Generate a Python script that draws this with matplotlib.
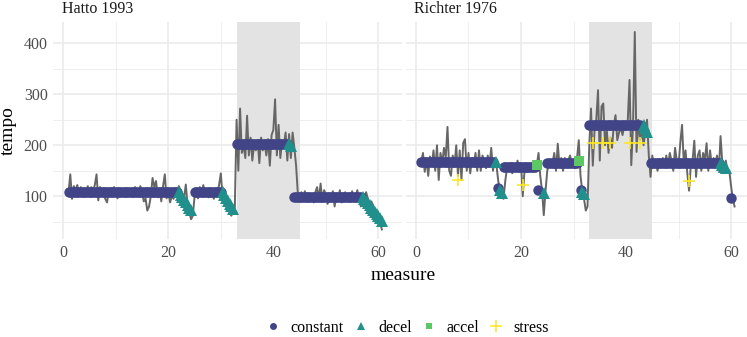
import numpy as np
import matplotlib
matplotlib.use('Agg')
import matplotlib.pyplot as plt
from matplotlib.lines import Line2D

plt.rcParams['font.family'] = ['Liberation Serif', 'DejaVu Serif']

# three beats per measure, measures 1..60
measure = np.repeat(np.arange(1, 61), 3) + np.tile([0, 1 / 3, 2 / 3], 60)

# raw tempo per beat, one row per measure
hatto_tempo = [
    108, 143, 95, 120, 112, 122, 105, 118, 110, 112, 108, 120, 100, 118, 110,
    122, 143, 92, 118, 112, 105, 95, 88, 110, 115, 100, 118, 108, 96, 112,
    110, 104, 112, 108, 115, 106, 110, 104, 118, 112, 100, 120, 108, 90, 96,
    72, 80, 100, 136, 118, 130, 98, 112, 90, 120, 143, 96, 110, 88, 100,
    95, 108, 100, 120, 112, 105, 98, 123, 82, 68, 55, 62, 100, 110, 96,
    118, 100, 122, 104, 110, 98, 112, 105, 95, 115, 108, 122, 145, 100, 95,
    88, 80, 70, 62, 68, 78, 250, 150, 272, 185, 200, 175, 258, 180, 215,
    170, 200, 190, 210, 165, 215, 190, 205, 180, 212, 160, 220, 230, 290, 180,
    240, 175, 210, 200, 225, 170, 222, 175, 225, 195, 160, 105, 100, 108, 96,
    110, 92, 104, 100, 96, 88, 108, 118, 94, 125, 90, 112, 104, 85, 100,
    96, 110, 80, 102, 95, 112, 88, 100, 108, 95, 104, 90, 110, 96, 100,
    112, 92, 80, 104, 96, 108, 95, 86, 90, 82, 75, 70, 62, 48, 35,
]
richter_tempo = [
    168, 185, 148, 172, 140, 178, 160, 190, 150, 200, 132, 185, 165, 195, 175,
    236, 150, 140, 180, 160, 200, 140, 190, 132, 205, 212, 150, 185, 145, 175,
    160, 185, 150, 190, 150, 180, 170, 155, 180, 160, 195, 150, 175, 160, 130,
    112, 100, 95, 130, 155, 150, 165, 145, 160, 150, 170, 155, 165, 100, 150,
    160, 148, 165, 155, 168, 150, 160, 185, 140, 112, 63, 110, 150, 165, 170,
    165, 185, 150, 203, 160, 175, 150, 175, 160, 170, 180, 165, 160, 155, 175,
    210, 140, 110, 95, 72, 80, 200, 272, 160, 230, 250, 308, 170, 276, 282,
    200, 230, 185, 215, 195, 240, 259, 210, 225, 235, 220, 240, 230, 250, 328,
    161, 240, 422, 187, 250, 210, 235, 200, 225, 250, 180, 138, 180, 160, 165,
    150, 170, 165, 175, 160, 180, 160, 185, 170, 150, 195, 170, 160, 205, 240,
    165, 190, 145, 111, 160, 170, 209, 138, 180, 190, 150, 185, 170, 204, 150,
    190, 160, 175, 165, 180, 150, 218, 165, 155, 170, 148, 150, 120, 95, 80,
]

# constant segments: start measure, end measure, fitted tempo
hatto_const_start = [1, 25, 33, 44]
hatto_const_end = [21.67, 30, 42.67, 56.67]
hatto_const_level = [108, 108, 203, 98]
hatto_decel_x = [22, 22.33, 22.67, 23, 23.33, 23.67, 24, 24.33,
                 30.33, 30.67, 31, 31.33, 31.67, 32, 32.33, 43, 43.33,
                 57, 57.33, 57.67, 58, 58.33, 58.67, 59, 59.33, 59.67, 60, 60.33, 60.67]
hatto_decel_y = [108, 103, 98, 93, 88, 83, 78, 73,
                 108, 102, 96, 90, 85, 80, 75, 203, 198,
                 98, 94, 90, 86, 82, 78, 74, 70, 66, 62, 58, 52]

richter_const_start = [1, 16.67, 25, 33, 44.67]
richter_const_end = [14.67, 22.67, 30.67, 42.67, 57.67]
richter_const_level = [167, 157, 166, 240, 166]
richter_const_x = [15.67, 23.33, 31.33, 60]
richter_const_y = [116, 112, 113, 97]
richter_decel_x = [15.33, 16, 16.33, 24.33, 31.67, 32, 43.33, 43.67, 44, 58, 58.33, 58.67, 59]
richter_decel_y = [168, 112, 106, 107, 109, 104, 240, 233, 226, 166, 162, 158, 155]
richter_accel_x = [23, 31]
richter_accel_y = [161, 169]
richter_stress_x = [8, 20.33, 33.67, 35.67, 37, 40.67, 42.67, 52]
richter_stress_y = [132, 122, 205, 205, 205, 205, 205, 130]

col_const = '#414487'
col_decel = '#21908C'
col_accel = '#5DC863'
col_stress = '#FDE725'

W, H = 747, 337
fig = plt.figure(figsize=(W / 100, H / 100), dpi=100)


def const_points(starts, ends, levels, extra_x=(), extra_y=()):
    xs, ys = [], []
    for s, e, lev in zip(starts, ends, levels):
        m = (measure >= s - 0.01) & (measure <= e + 0.01)
        xs += list(measure[m])
        ys += [lev] * int(m.sum())
    return xs + list(extra_x), ys + list(extra_y)


panels = [
    ('Hatto 1993', 53.3, hatto_tempo,
     const_points(hatto_const_start, hatto_const_end, hatto_const_level),
     (hatto_decel_x, hatto_decel_y), ([], []), ([], [])),
    ('Richter 1976', 406, richter_tempo,
     const_points(richter_const_start, richter_const_end, richter_const_level,
                  richter_const_x, richter_const_y),
     (richter_decel_x, richter_decel_y), (richter_accel_x, richter_accel_y),
     (richter_stress_x, richter_stress_y)),
]

pw = 348.7
top, bot = 22.3, 239
for i, (title, left, tempo, cons, dec, acc, strs) in enumerate(panels):
    ax = fig.add_axes([left / W, 1 - bot / H, pw / W, (bot - top) / H])
    ax.set_xlim(-1.9, 64.5)
    ax.set_ylim(16.3, 441)
    ax.set_xticks([0, 20, 40, 60])
    ax.set_xticks([10, 30, 50], minor=True)
    ax.set_yticks([100, 200, 300, 400])
    ax.set_yticks([50, 150, 250, 350], minor=True)
    ax.grid(True, which='major', color='#EBEBEB', lw=1.2, zorder=0)
    ax.grid(True, which='minor', color='#EBEBEB', lw=0.6, zorder=0)
    ax.set_axisbelow(True)
    for s in ax.spines.values():
        s.set_visible(False)
    ax.tick_params(which='both', length=0, labelsize=11.5, labelcolor='#4D4D4D', pad=4)
    if i == 1:
        ax.tick_params(axis='y', labelleft=False)
    ax.axvspan(33, 45, color='#E3E3E3', lw=0, zorder=1)
    ax.plot(measure, tempo, color='#666666', lw=1.4, zorder=2)
    ax.plot(cons[0], cons[1], 'o', color=col_const, ms=7.5, mew=0, zorder=3)
    ax.plot(dec[0], dec[1], '^', color=col_decel, ms=8, mew=0, zorder=3)
    ax.plot(acc[0], acc[1], 's', color=col_accel, ms=6.5, mew=0, zorder=3)
    ax.plot(strs[0], strs[1], '+', color=col_stress, ms=9, mew=1.2, zorder=4)
    fig.text((left + 8.5) / W, 1 - 9 / H, title, fontsize=11.5, color='#1A1A1A',
             ha='left', va='center')

fig.text(403 / W, 1 - 275 / H, 'measure', fontsize=14, ha='center', va='center')
fig.text(8 / W, 1 - 131 / H, 'tempo', fontsize=14, ha='center', va='center', rotation=90)

handles = [
    Line2D([], [], marker='o', ls='none', color=col_const, ms=5, mew=0),
    Line2D([], [], marker='^', ls='none', color=col_decel, ms=5.5, mew=0),
    Line2D([], [], marker='s', ls='none', color=col_accel, ms=5, mew=0),
    Line2D([], [], marker='+', ls='none', color=col_stress, ms=8, mew=1.1),
]
fig.legend(handles, ['constant', 'decel', 'accel', 'stress'], ncol=4, frameon=False,
           loc='center', bbox_to_anchor=(407 / W, 1 - 328 / H), fontsize=11.5,
           handlelength=1.0, handletextpad=0.6, columnspacing=0.55, borderpad=0)

fig.savefig('out.png', dpi=100)
